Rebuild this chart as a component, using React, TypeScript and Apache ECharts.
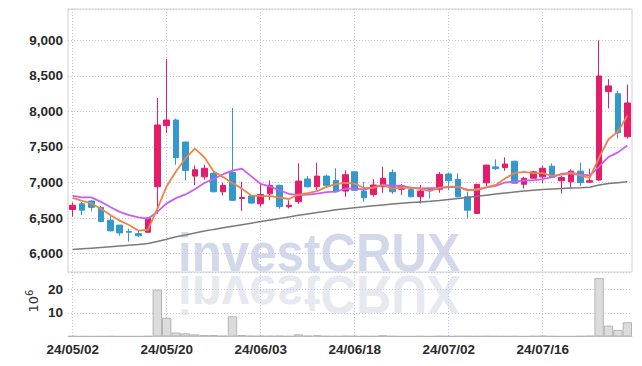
import React, { useEffect, useRef } from 'react';
import * as echarts from 'echarts';

const dates = [
  '24/05/02', '24/05/03', '24/05/07', '24/05/08', '24/05/09', '24/05/10', '24/05/13', '24/05/14', '24/05/16', '24/05/17',
  '24/05/20', '24/05/21', '24/05/22', '24/05/23', '24/05/24', '24/05/27', '24/05/28', '24/05/29', '24/05/30', '24/05/31',
  '24/06/03', '24/06/04', '24/06/05', '24/06/07', '24/06/10', '24/06/11', '24/06/12', '24/06/13', '24/06/14', '24/06/17',
  '24/06/18', '24/06/19', '24/06/20', '24/06/21', '24/06/24', '24/06/25', '24/06/26', '24/06/27', '24/06/28', '24/07/01',
  '24/07/02', '24/07/03', '24/07/04', '24/07/05', '24/07/08', '24/07/09', '24/07/10', '24/07/11', '24/07/12', '24/07/15',
  '24/07/16', '24/07/17', '24/07/18', '24/07/19', '24/07/22', '24/07/23', '24/07/24', '24/07/25', '24/07/26', '24/07/29',
];

const opens = [
  6620, 6700, 6740, 6650, 6470, 6400, 6310, 6280, 6300, 6940,
  7800, 7880, 7570, 7090, 7080, 7130, 6870, 7140, 6775, 6810,
  6700, 6840, 6960, 6660, 6730, 7050, 6940, 7090, 7030, 6880,
  7150, 6880, 6830, 6940, 7140, 6905, 6900, 6800, 6905, 6905,
  7120, 7045, 6800, 6565, 6995, 7220, 7210, 7300, 6975, 7060,
  7080, 7230, 7025, 7010, 7160, 7005, 7035, 8280, 8250, 7645,
];
const closes = [
  6680, 6610, 6650, 6450, 6320, 6290, 6300, 6250, 6500, 7810,
  7880, 7350, 7170, 7180, 7200, 6870, 6960, 6750, 6790, 6710,
  6830, 6960, 6660, 6680, 7020, 6940, 7090, 6960, 6870, 7110,
  6890, 6785, 6965, 7060, 6870, 6950, 6800, 6880, 6895, 7115,
  7025, 6800, 6610, 6975, 7245, 7195, 7260, 6990, 7060, 7150,
  7200, 7070, 7070, 7160, 7000, 7025, 8500, 8360, 7700, 8120,
];
const lows = [
  6520, 6540, 6590, 6440, 6310, 6250, 6170, 6230, 6290, 6560,
  7700, 7250, 7030, 6960, 7040, 6860, 6820, 6740, 6600, 6700,
  6660, 6750, 6630, 6635, 6700, 6930, 6890, 6950, 6860, 6800,
  6880, 6730, 6800, 6855, 6840, 6825, 6790, 6705, 6775, 6855,
  6890, 6790, 6495, 6560, 6950, 7175, 7165, 6985, 6915, 7055,
  6990, 7065, 6845, 6905, 6950, 6995, 7020, 8045, 7620, 7620,
];
const highs = [
  6720, 6725, 6750, 6670, 6540, 6400, 6350, 6330, 6510, 8190,
  8740, 7900, 7575, 7240, 7250, 7170, 7000, 8050, 7010, 6820,
  6980, 7030, 6970, 6750, 7270, 7090, 7280, 7110, 7200, 7170,
  7160, 7010, 7045, 7220, 7185, 6980, 6925, 6965, 6915, 7150,
  7140, 7130, 6870, 6980, 7250, 7325, 7355, 7305, 7080, 7165,
  7235, 7270, 7095, 7185, 7280, 7195, 9000, 8455, 8295, 8380,
];

const ma5 = [
  6785, 6740, 6705, 6630, 6542, 6464, 6402, 6322, 6332, 6630,
  6948, 7158, 7342, 7478, 7356, 7154, 7076, 6992, 6914, 6816,
  6808, 6808, 6790, 6768, 6830, 6852, 6878, 6938, 6976, 6994,
  6984, 6923, 6924, 6962, 6914, 6926, 6929, 6912, 6879, 6928,
  6943, 6943, 6889, 6905, 6931, 6965, 7057, 7133, 7150, 7131,
  7132, 7094, 7110, 7130, 7100, 7065, 7351, 7609, 7717, 7941,
];
const ma10 = [
  6810, 6790, 6790, 6728, 6655, 6587, 6540, 6508, 6490, 6586,
  6706, 6780, 6832, 6905, 6993, 7051, 7117, 7167, 7196, 7086,
  6981, 6942, 6891, 6841, 6823, 6830, 6843, 6864, 6872, 6912,
  6918, 6901, 6931, 6969, 6954, 6955, 6926, 6918, 6921, 6921,
  6935, 6936, 6901, 6892, 6930, 6954, 7000, 7011, 7028, 7031,
  7049, 7076, 7122, 7140, 7116, 7099, 7223, 7360, 7424, 7521,
];
const maLong = [
  6056, 6066, 6076, 6086, 6096, 6106, 6116, 6126, 6140, 6170,
  6200, 6235, 6262, 6290, 6317, 6340, 6362, 6384, 6406, 6428,
  6450, 6472, 6494, 6516, 6538, 6558, 6578, 6597, 6615, 6630,
  6645, 6658, 6672, 6684, 6696, 6707, 6718, 6727, 6736, 6746,
  6760, 6775, 6790, 6806, 6822, 6838, 6852, 6866, 6880, 6892,
  6902, 6910, 6916, 6921, 6926, 6932, 6965, 6985, 6998, 7010,
];

// volume, in millions of shares
const volumes = [
  0.15, 0.12, 0.1, 0.12, 0.15, 0.1, 0.1, 0.08, 0.2, 19.8,
  7.9, 1.7, 1.3, 0.9, 0.6, 0.6, 0.3, 8.5, 0.6, 0.3,
  0.3, 0.25, 0.3, 0.15, 0.9, 0.3, 0.5, 0.2, 0.2, 0.25,
  0.2, 0.15, 0.15, 0.5, 0.2, 0.1, 0.1, 0.15, 0.1, 0.2,
  0.15, 0.2, 0.2, 0.15, 0.2, 0.15, 0.15, 0.15, 0.1, 0.2,
  0.3, 0.15, 0.1, 0.1, 0.2, 0.3, 24.6, 4.6, 2.8, 6.0,
];

const watermarkText = 'investCRUX';

export default function App() {
  const ref = useRef<HTMLDivElement>(null);

  useEffect(() => {
    if (!ref.current) return;
    const chart = echarts.init(ref.current, null, { renderer: 'svg' });

    const candleData = dates.map((_, i) => [opens[i], closes[i], lows[i], highs[i]]);

    const labelFont = {
      fontFamily: "'Liberation Sans', Arial, sans-serif",
      fontWeight: 'bold' as const,
      fontSize: 13.5,
      color: '#2a2a2a',
    };
    const dotted = { type: [1, 2] as any, color: '#c4c8dc', width: 1 };

    const option: any = {
      animation: false,
      backgroundColor: '#ffffff',
      graphic: [
        {
          type: 'text',
          x: 178,
          y: 252.5,
          scaleX: 0.93,
          z: -10,
          silent: true,
          style: {
            text: watermarkText,
            fontFamily: "'Liberation Sans', Arial, sans-serif",
            fontWeight: 'bold',
            fontSize: 53,
            fill: '#d3d8ea',
            align: 'left',
            verticalAlign: 'middle',
          },
        },
        {
          type: 'text',
          x: 178,
          y: 294,
          scaleX: 0.93,
          scaleY: -1,
          z: -10,
          silent: true,
          style: {
            text: watermarkText,
            fontFamily: "'Liberation Sans', Arial, sans-serif",
            fontWeight: 'bold',
            fontSize: 53,
            fill: '#e7e8f0',
            align: 'left',
            verticalAlign: 'middle',
          },
        },
        {
          type: 'text',
          x: 32,
          y: 301,
          rotation: Math.PI / 2,
          silent: true,
          style: {
            text: '{a|10}{b|6}',
            align: 'center',
            verticalAlign: 'middle',
            rich: {
              a: { fontFamily: "'DejaVu Sans', sans-serif", fontSize: 13, fill: '#333333', color: '#333333', verticalAlign: 'bottom', lineHeight: 16 },
              b: { fontFamily: "'DejaVu Sans', sans-serif", fontSize: 10, fill: '#333333', color: '#333333', verticalAlign: 'top', lineHeight: 16 },
            },
          },
        },
      ],
      grid: [
        { left: 68, top: 9, width: 564, height: 263, show: true, borderColor: '#d0d0d4', borderWidth: 1 },
        { left: 68, top: 272, width: 564, height: 64.5, show: false },
      ],
      xAxis: [
        {
          type: 'category',
          gridIndex: 0,
          data: dates,
          boundaryGap: true,
          axisLine: { show: false },
          axisTick: { show: false },
          axisLabel: { show: false },
          splitLine: { show: true, interval: 9, alignWithLabel: true, lineStyle: dotted },
        },
        {
          type: 'category',
          gridIndex: 1,
          data: dates,
          boundaryGap: true,
          axisLine: { show: true, lineStyle: { color: '#c8c8cc', width: 1 } },
          axisTick: { show: false },
          axisLabel: { interval: 9, margin: 6, ...labelFont },
          splitLine: { show: true, interval: 9, alignWithLabel: true, lineStyle: dotted },
        },
      ],
      yAxis: [
        {
          type: 'value',
          gridIndex: 0,
          min: 5740,
          max: 9443,
          splitNumber: 7,
          axisLine: { show: false },
          axisTick: { show: false },
          axisLabel: {
            showMinLabel: false,
            showMaxLabel: false,
            margin: 5,
            formatter: (v: number) => v.toLocaleString('en-US'),
            ...labelFont,
          },
          splitLine: { show: true, lineStyle: dotted },
        },
        {
          type: 'value',
          gridIndex: 1,
          min: 0,
          max: 27.2,
          splitNumber: 3,
          axisLine: { show: false },
          axisTick: { show: false },
          axisLabel: { showMinLabel: false, showMaxLabel: false, margin: 5, ...labelFont },
          splitLine: { show: true, lineStyle: dotted },
        },
      ],
      series: [
        {
          type: 'bar',
          xAxisIndex: 1,
          yAxisIndex: 1,
          data: volumes,
          barCategoryGap: '0%',
          itemStyle: { color: '#dcdcdc', borderColor: '#b4b4b4', borderWidth: 1 },
        },
        {
          type: 'candlestick',
          xAxisIndex: 0,
          yAxisIndex: 0,
          data: candleData,
          barWidth: 6,
          itemStyle: {
            color: '#e31c6b',
            color0: '#3399cc',
            borderColor: '#e31c6b',
            borderColor0: '#3399cc',
            borderWidth: 1,
          },
        },
        {
          type: 'line',
          xAxisIndex: 0,
          yAxisIndex: 0,
          data: maLong,
          showSymbol: false,
          lineStyle: { color: '#7a7a7a', width: 1.5 },
        },
        {
          type: 'line',
          xAxisIndex: 0,
          yAxisIndex: 0,
          data: ma10,
          showSymbol: false,
          lineStyle: { color: '#c95ff0', width: 1.8 },
        },
        {
          type: 'line',
          xAxisIndex: 0,
          yAxisIndex: 0,
          data: ma5,
          showSymbol: false,
          lineStyle: { color: '#ef8448', width: 1.8 },
        },
      ],
    };

    chart.setOption(option);
    return () => chart.dispose();
  }, []);

  return (
    <div
      ref={ref}
      style={{ position: 'fixed', left: 0, top: 0, width: 642, height: 366 }}
    />
  );
}
